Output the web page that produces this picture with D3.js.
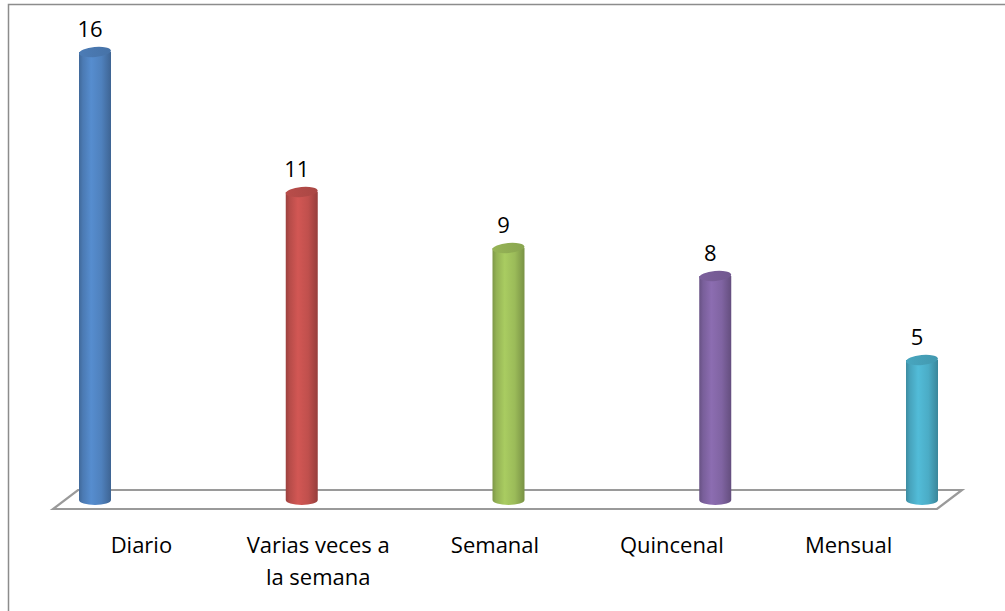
<!DOCTYPE html>
<html>
<head>
<meta charset="utf-8">
<script src="https://cdn.jsdelivr.net/npm/d3@7"></script>
<style>
  body { margin: 0; background: #fff; }
  text { font-family: "Open Sans", Lato, sans-serif; fill: #000; }
</style>
</head>
<body>
<div id="chart"></div>
<script>
// data
var categories = ["Diario", "Varias veces a la semana", "Semanal", "Quincenal", "Mensual"];
var catLines = [["Diario"], ["Varias veces a", "la semana"], ["Semanal"], ["Quincenal"], ["Mensual"]];
var values = [16, 11, 9, 8, 5];
var colors = ["#4F81BD", "#C0504D", "#9BBB59", "#8064A2", "#4BACC6"];

var W = 1005, H = 611;
var svg = d3.select("#chart").append("svg")
    .attr("width", W).attr("height", H);

var defs = svg.append("defs");

// chart frame
svg.append("rect")
    .attr("x", 8.5).attr("y", 4.5)
    .attr("width", 1010).attr("height", 620)
    .attr("fill", "none").attr("stroke", "#8c8c8c").attr("stroke-width", 1.5);

// scales
var y = d3.scaleLinear().domain([0, 16]).range([500, 52]);
var xLabel = d3.scaleBand().domain(categories).range([53, 937]);
var xBar = d3.scalePoint().domain(categories).range([95, 922]);

// floor (3d plane)
var fl = 53, fr = 937, fy = 509, dx = 25, dy = -19;
svg.append("path")
    .attr("d", "M" + fl + "," + fy + "L" + fr + "," + fy + "L" + (fr + dx) + "," + (fy + dy) +
          "L" + (fl + dx) + "," + (fy + dy) + "Z")
    .attr("fill", "none").attr("stroke", "#9a9a9a").attr("stroke-width", 2.2)
    .attr("stroke-linejoin", "miter");

// gradients per colour
colors.forEach(function(c, i) {
  var base = d3.color(c);
  var g = defs.append("linearGradient").attr("id", "cyl" + i)
      .attr("x1", "0%").attr("x2", "100%").attr("y1", "0%").attr("y2", "0%");
  g.append("stop").attr("offset", "0%").attr("stop-color", base.darker(0.6));
  g.append("stop").attr("offset", "12%").attr("stop-color", base.darker(0.15));
  g.append("stop").attr("offset", "38%").attr("stop-color", base.brighter(0.25));
  g.append("stop").attr("offset", "70%").attr("stop-color", base);
  g.append("stop").attr("offset", "100%").attr("stop-color", base.darker(0.7));

  var t = defs.append("linearGradient").attr("id", "top" + i)
      .attr("x1", "0%").attr("x2", "100%").attr("y1", "0%").attr("y2", "0%");
  t.append("stop").attr("offset", "0%").attr("stop-color", base.darker(0.1));
  t.append("stop").attr("offset", "100%").attr("stop-color", base.darker(0.35));
});

var rx = 16, ry = 5;

var bars = svg.selectAll(".bar")
    .data(values)
  .enter().append("g")
    .attr("class", "bar");

// cylinder body
bars.append("path")
    .attr("d", function(d, i) {
      var cx = xBar(categories[i]), y0 = y(0), y1 = y(d);
      return "M" + (cx - rx) + "," + y1 +
             "L" + (cx - rx) + "," + y0 +
             "A" + rx + "," + ry + " 0 0 0 " + (cx + rx) + "," + y0 +
             "L" + (cx + rx) + "," + y1 + "Z";
    })
    .attr("fill", function(d, i) { return "url(#cyl" + i + ")"; });

// cylinder top
bars.append("ellipse")
    .attr("cx", function(d, i) { return xBar(categories[i]); })
    .attr("cy", function(d) { return y(d); })
    .attr("rx", rx).attr("ry", ry)
    .attr("transform", function(d, i) {
      return "rotate(-5," + xBar(categories[i]) + "," + y(d) + ")";
    })
    .attr("fill", function(d, i) { return "url(#top" + i + ")"; });

// value labels
bars.append("text")
    .attr("x", function(d, i) { return xBar(categories[i]) - 5; })
    .attr("y", function(d) { return y(d) - 15; })
    .attr("text-anchor", "middle")
    .style("font-size", "22px")
    .text(function(d) { return d; });

// category labels
var labels = svg.selectAll(".cat")
    .data(categories)
  .enter().append("text")
    .attr("class", "cat")
    .attr("x", function(d) { return xLabel(d) + xLabel.bandwidth() / 2; })
    .attr("y", 553)
    .attr("text-anchor", "middle")
    .style("font-size", "22px");

labels.selectAll("tspan")
    .data(function(d, i) { return catLines[i]; })
  .enter().append("tspan")
    .attr("x", function() { return d3.select(this.parentNode).attr("x"); })
    .attr("dy", function(d, j) { return j === 0 ? 0 : 32; })
    .text(function(d) { return d; });
</script>
</body>
</html>
